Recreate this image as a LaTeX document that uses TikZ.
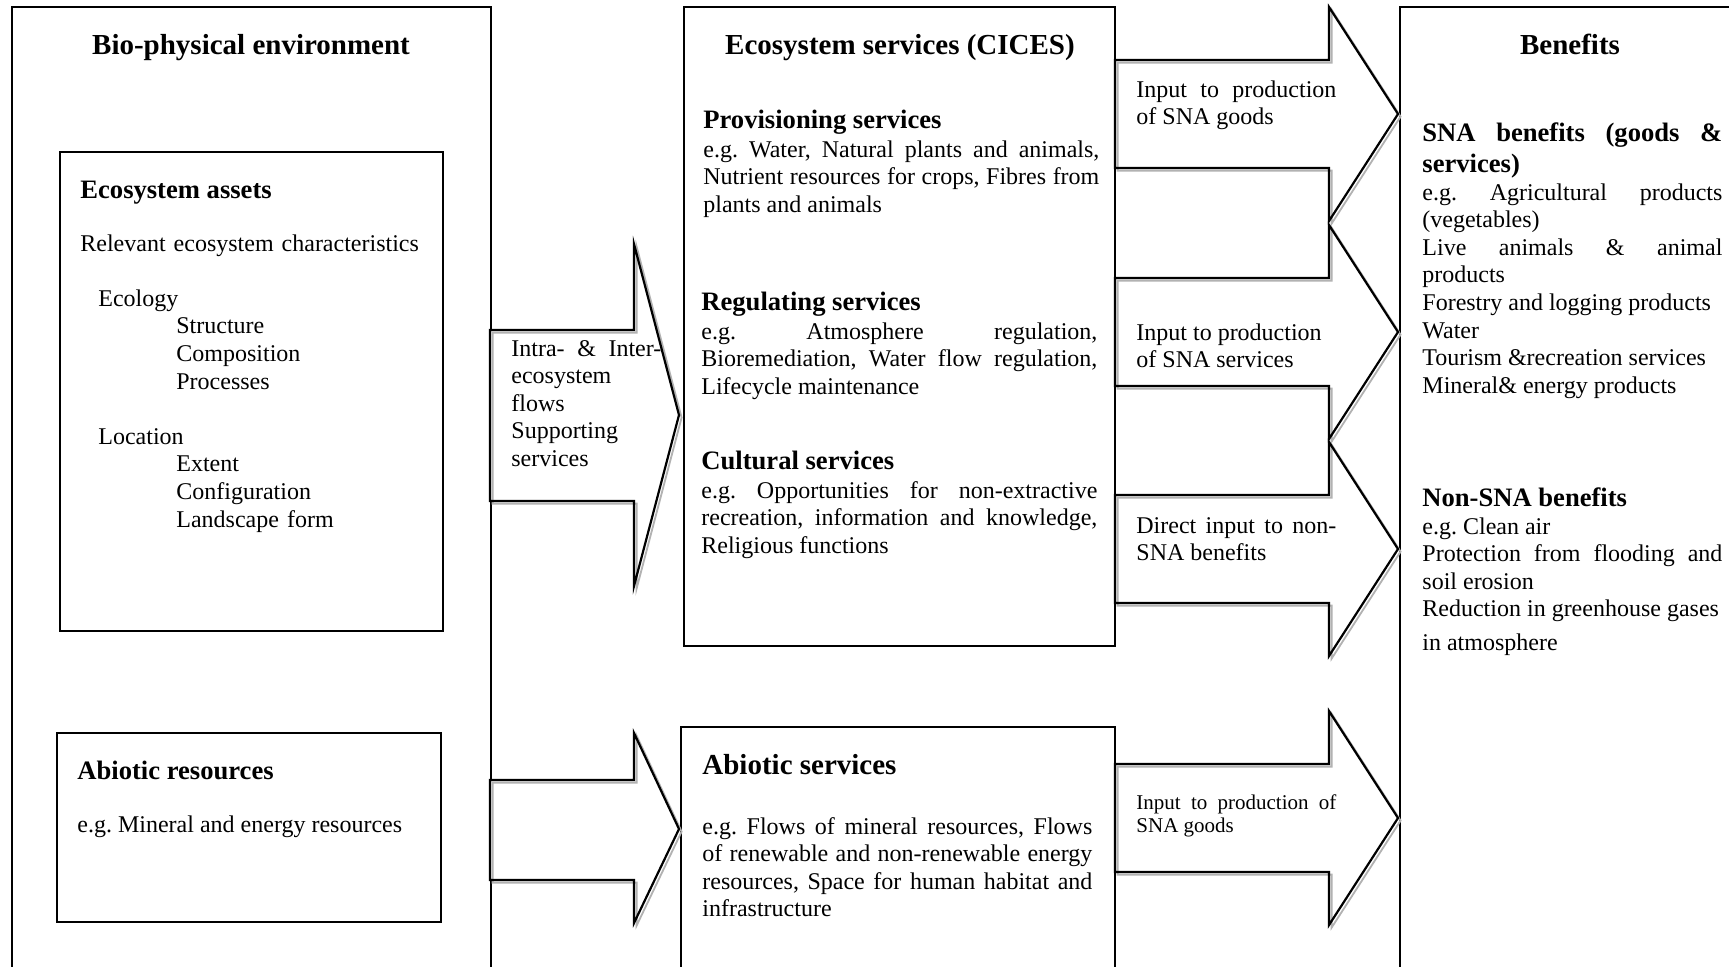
\documentclass[tikz,border=0pt]{standalone}
\usepackage{fontspec}
\setmainfont{Liberation Serif}
\hyphenpenalty=10000
\frenchspacing

\tikzset{
  boxline/.style={draw=black, line width=0.65pt},
  blockarrow/.style={fill=white,
    postaction={draw=black!30, line width=0.9pt, transform canvas={shift={(1.3pt,-1.3pt)}}},
    postaction={draw=black, line width=1.1pt}},
  txt/.style={inner sep=0pt, anchor=base west, font=\fontsize{12}{13.8}\selectfont},
  smalltxt/.style={inner sep=0pt, anchor=base west, font=\fontsize{10.5}{11.6}\selectfont},
  para/.style={txt, text width=#1, align=justify},
  sechead/.style={inner sep=0pt, anchor=base west, font=\fontsize{13.3}{15.5}\selectfont\bfseries},
  boxtitle/.style={inner sep=0pt, anchor=base, font=\fontsize{14.5}{16.7}\selectfont\bfseries}
}

\begin{document}
\begin{tikzpicture}[x=0.5pt, y=-0.5pt]

  \useasboundingbox (0,0) rectangle (1729,966);
  \clip (0,0) rectangle (1729,966);
  \fill[white] (0,0) rectangle (1729,966);

  % BOXES
  \draw[boxline] (12,7) rectangle (491,1000);
  \draw[boxline] (60,152) rectangle (443,631);
  \draw[boxline] (57,733) rectangle (441,922);
  \draw[boxline] (684,7) rectangle (1115,646);
  \draw[boxline] (681,727) rectangle (1115,1000);
  \draw[boxline] (1400,7) rectangle (1760,1000);

  % ARROWS LEFT
  \path[blockarrow] (490,330) -- (634,330) -- (634,244) -- (679,415)
    -- (634,586) -- (634,501) -- (490,501) -- cycle;
  \path[blockarrow] (490,780) -- (634,780) -- (634,733) -- (679,829)
    -- (634,923) -- (634,880) -- (490,880) -- cycle;

  % ARROWS RIGHT
  \foreach \c in {114,332,549,818}{
    \path[blockarrow] (1115,\c-54) -- (1329,\c-54) -- (1329,\c-107) -- (1398,\c)
      -- (1329,\c+107) -- (1329,\c+54) -- (1115,\c+54) -- cycle;
  }

  % BIO-PHYSICAL ENVIRONMENT
  \node[boxtitle] (bioTitle) at (251,54) {Bio-physical environment};
  \node[sechead] (assetsHead) at (80,198) {Ecosystem assets};
  \node[txt, text width=170pt, align=left] (assetsText) at (80,251) {Relevant ecosystem characteristics\\[13.8pt]
    \hspace*{9pt}Ecology\\
    \hspace*{48pt}Structure\\
    \hspace*{48pt}Composition\\
    \hspace*{48pt}Processes\\[13.8pt]
    \hspace*{9pt}Location\\
    \hspace*{48pt}Extent\\
    \hspace*{48pt}Configuration\\
    \hspace*{48pt}Landscape form};
  \node[sechead] (abResHead) at (77,779) {Abiotic resources};
  \node[txt] (abResText) at (77,832) {e.g. Mineral and energy resources};

  % FLOWS
  \node[txt, text width=76pt, align=left] (flowText) at (511,356) {\hbox to 75pt{Intra-\hfil\ \&\hfil\ Inter-}\\
    ecosystem\\ flows\\ Supporting\\ services};

  % ECOSYSTEM SERVICES
  \node[boxtitle] (cicesTitle) at (900,54) {Ecosystem services (CICES)};
  \node[sechead] (provHead) at (703,128) {Provisioning services};
  \node[para=198pt] (provText) at (703,157) {e.g. Water, Natural plants and animals,\linebreak
    Nutrient resources for crops, Fibres from\linebreak plants and animals};
  \node[sechead] (regHead) at (701,310) {Regulating services};
  \node[para=198pt] (regText) at (701,339) {e.g. Atmosphere regulation,\linebreak
    Bioremediation, Water flow regulation,\linebreak Lifecycle maintenance};
  \node[sechead] (cultHead) at (701,469) {Cultural services};
  \node[para=198pt] (cultText) at (701,498) {e.g. Opportunities for non-extractive\linebreak
    recreation, information and knowledge,\linebreak Religious functions};

  % ABIOTIC SERVICES
  \node[sechead, font=\fontsize{14.5}{16.7}\selectfont\bfseries] (abSrvHead) at (702,774) {Abiotic services};
  \node[para=195pt] (abSrvText) at (702,834) {e.g. Flows of mineral resources, Flows\linebreak
    of renewable and non-renewable energy\linebreak resources, Space for human habitat and\linebreak
    infrastructure};

  % ARROW TEXTS
  \node[para=100pt] (goodsText) at (1136,97) {Input to production\linebreak of SNA goods};
  \node[para=100pt] (servText) at (1136,340) {Input to production\\ of SNA services};
  \node[para=100pt] (nonSnaText) at (1136,533) {Direct input to non-\linebreak SNA benefits};
  \node[smalltxt, text width=100pt, align=justify] (abGoodsText) at (1136,809) {Input to production of\linebreak SNA goods};

  % BENEFITS
  \node[boxtitle] (benTitle) at (1570,54) {Benefits};
  \node[sechead, text width=150pt, align=justify] (snaHead) at (1422,141) {SNA benefits (goods \&\linebreak services)};
  \node[para=150pt] (snaText) at (1422,200) {e.g. Agricultural products\linebreak (vegetables)\\
    Live animals \& animal\linebreak products\\
    Forestry and logging products\\
    Water\\
    Tourism \&recreation services\\
    Mineral\& energy products};
  \node[sechead] (nonSnaHead) at (1422,506) {Non-SNA benefits};
  \node[para=150pt] (nonSnaBen) at (1422,534) {e.g. Clean air\\
    Protection from flooding and\linebreak soil erosion\\
    Reduction in greenhouse gases\\[2.8pt]
    in atmosphere};

\end{tikzpicture}
\end{document}
